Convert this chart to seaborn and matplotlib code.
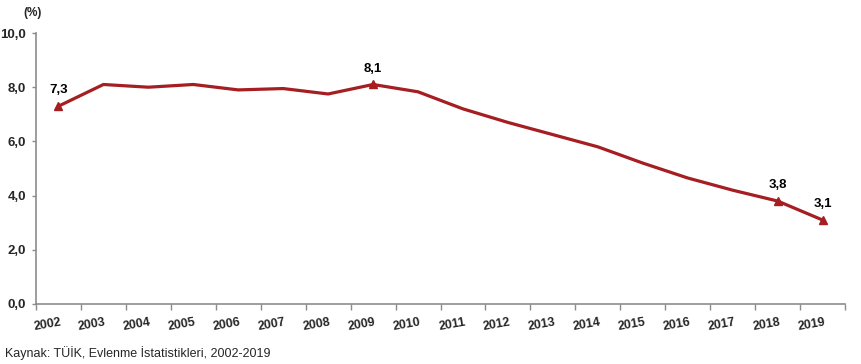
import matplotlib
matplotlib.use("Agg")
import matplotlib.pyplot as plt
import seaborn as sns
import pandas as pd

# data
years = [str(y) for y in range(2002, 2020)]
rates = [7.3, 8.1, 8.0, 8.1, 7.9, 7.95, 7.75, 8.1, 7.83,
         7.2, 6.7, 6.25, 5.8, 5.2, 4.65, 4.2, 3.8, 3.1]
labeled_years = ["2002", "2009", "2018", "2019"]
y_ticks = [0, 2, 4, 6, 8, 10]
source_text = "Kaynak: TÜİK, Evlenme İstatistikleri, 2002-2019"

LINE = "#A41E22"
GREY = "#8C8C8C"

df = pd.DataFrame({"year": years, "rate": rates})
df["pos"] = range(len(df))

sns.set_theme(style="white")
plt.rcParams["font.family"] = ["Liberation Sans", "DejaVu Sans"]

fig = plt.figure(figsize=(8.61, 3.64), dpi=100)
ax = fig.add_axes([36 / 861, 60 / 364, 809 / 861, 271 / 364])

sns.lineplot(data=df, x="pos", y="rate", color=LINE, linewidth=2.3, ax=ax)

lab = df[df["year"].isin(labeled_years)]
ax.plot(lab["pos"], lab["rate"], linestyle="none", marker="^",
        markersize=6, color=LINE)
for _, r in lab.iterrows():
    ax.annotate(f"{r['rate']:.1f}".replace(".", ","), (r["pos"], r["rate"]),
                xytext=(0, 7), textcoords="offset points", ha="center",
                va="bottom", fontsize=9.5, fontweight="bold", color="black")

ax.set_xlim(-0.5, len(df) - 0.5)
ax.set_ylim(0, 10)
ax.set_yticks(y_ticks)
ax.set_yticklabels([f"{v:.1f}".replace(".", ",") for v in y_ticks],
                   fontsize=9.5, fontweight="bold")
ax.set_xticks([p + 0.08 for p in df["pos"]])
ax.set_xticklabels(years, rotation=10, ha="right", fontsize=9,
                   fontweight="bold")
ax.set_xticks([p - 0.5 for p in range(len(df) + 1)], minor=True)
ax.tick_params(axis="x", which="major", length=0, pad=9)
ax.tick_params(axis="x", which="minor", length=4, color=GREY, width=1,
               direction="out", bottom=True)
ax.tick_params(axis="y", length=3, color=GREY, width=1, direction="out",
               left=True, pad=4)
ax.set_xlabel("")
ax.set_ylabel("")

for side in ["top", "right"]:
    ax.spines[side].set_visible(False)
for side in ["left", "bottom"]:
    ax.spines[side].set_color(GREY)
    ax.spines[side].set_linewidth(1.2)

fig.text(33 / 861, 1 - 13 / 364, "(%)", ha="center", va="center",
         fontsize=8.5, fontweight="bold")
fig.text(5 / 861, 1 - 353 / 364, source_text, ha="left", va="center",
         fontsize=9)

fig.savefig("out.png", dpi=100)
